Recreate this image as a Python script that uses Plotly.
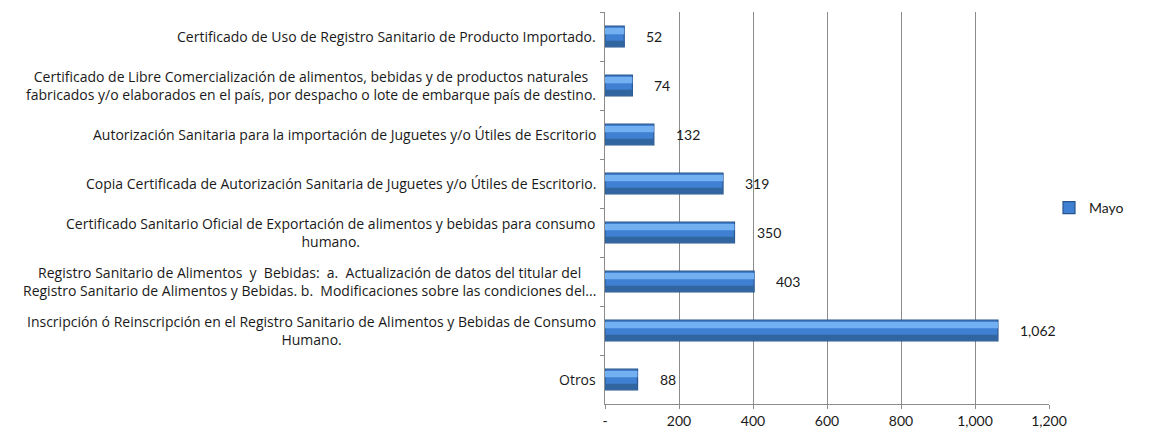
import plotly.graph_objects as go

tramites = [
    "Certificado de Uso de Registro Sanitario de Producto Importado.",
    "Certificado de Libre Comercialización de alimentos, bebidas y de productos naturales<br>"
    "fabricados y/o elaborados en el país, por despacho o lote de embarque país de destino.",
    "Autorización Sanitaria para la importación de Juguetes y/o Útiles de Escritorio",
    "Copia Certificada de Autorización Sanitaria de Juguetes y/o Útiles de Escritorio.",
    "Certificado Sanitario Oficial de Exportación de alimentos y bebidas para consumo<br>humano.",
    "Registro Sanitario de Alimentos  y  Bebidas:  a.  Actualización de datos del titular del<br>"
    "Registro Sanitario de Alimentos y Bebidas. b.  Modificaciones sobre las condiciones del...",
    "Inscripción ó Reinscripción en el Registro Sanitario de Alimentos y Bebidas de Consumo<br>Humano.",
    "Otros",
]
mayo = [52, 74, 132, 319, 350, 403, 1062, 88]
x_ticks = [0, 200, 400, 600, 800, 1000, 1200]
x_ticktext = ["-", "200", "400", "600", "800", "1,000", "1,200"]

num_font = "Lato, Liberation Sans, Arial"
lbl_font = "Open Sans, Lato, Arial"
cat_ids = [str(i) for i in range(len(tramites))]

fig = go.Figure()
# barra principal
fig.add_trace(go.Bar(
    y=cat_ids, x=mayo, orientation='h', name='Mayo',
    marker=dict(color='#3f80d2', line=dict(color='#27558f', width=1.2)),
    width=0.42, offset=-0.21,
))
# sombra inferior y brillo superior (efecto 3D)
fig.add_trace(go.Bar(
    y=cat_ids, x=mayo, orientation='h', showlegend=False,
    marker=dict(color='#30659f', line=dict(width=0)),
    width=0.11, offset=0.085, hoverinfo='skip',
))
fig.add_trace(go.Bar(
    y=cat_ids, x=mayo, orientation='h', showlegend=False,
    marker=dict(color='#72b0f1', line=dict(width=0)),
    width=0.13, offset=-0.175, hoverinfo='skip',
))

annotations = []
for cid, label, val in zip(cat_ids, tramites, mayo):
    annotations.append(dict(x=0, y=cid, xref='x', yref='y', text=label, showarrow=False,
                            xanchor='right', align='center', xshift=-7,
                            font=dict(size=14, color='#1a1a1a', family=lbl_font)))
    annotations.append(dict(x=val, y=cid, xref='x', yref='y', text=f"{val:,}", showarrow=False,
                            xanchor='left', xshift=20,
                            font=dict(size=14, color='#1a1a1a', family=num_font)))

fig.update_layout(
    width=1174, height=439,
    margin=dict(l=597, r=133, t=4, b=43),
    barmode='overlay',
    plot_bgcolor='white', paper_bgcolor='white',
    font=dict(family=num_font, size=14, color='#1a1a1a'),
    annotations=annotations,
    showlegend=True,
    legend=dict(x=1.0, xanchor='left', y=0.5, yanchor='middle',
                font=dict(size=14), itemwidth=30),
)
fig.update_xaxes(range=[0, 1200], tickvals=x_ticks, ticktext=x_ticktext,
                 showgrid=True, gridcolor='#8c8c8c', gridwidth=1,
                 showline=True, linecolor='#8c8c8c', ticks='outside', ticklen=4,
                 tickcolor='#8c8c8c', zeroline=False, fixedrange=True)
fig.update_yaxes(autorange='reversed', showticklabels=False, showline=True,
                 linecolor='#8c8c8c', ticks='outside', ticklen=4, tickcolor='#8c8c8c',
                 tickson='boundaries', showgrid=False)

fig.write_html("out.html")
